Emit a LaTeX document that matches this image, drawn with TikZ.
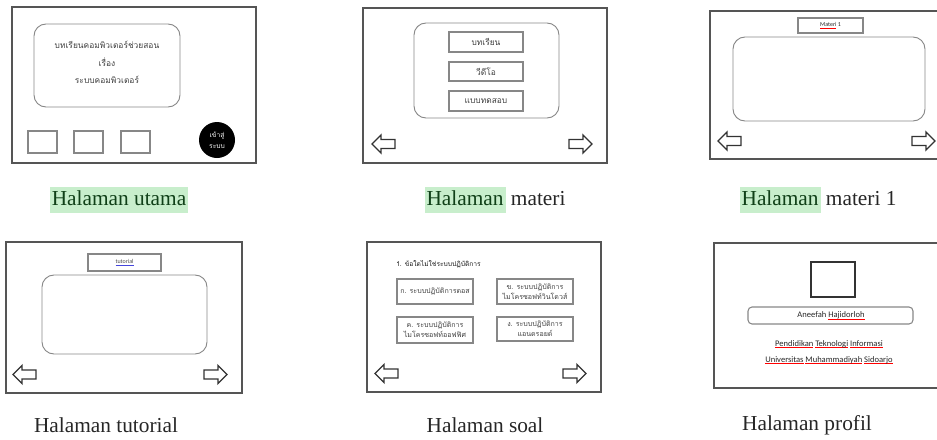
\documentclass[tikz,border=0pt]{standalone}
\usepackage{fontspec}
\setmainfont{Liberation Serif}
\newfontfamily\thai[Script=Thai]{Loma}
\newfontfamily\calib{Carlito}
\definecolor{hl}{RGB}{200,238,204}
\definecolor{hltext}{RGB}{16,64,24}
\definecolor{frame}{RGB}{85,85,85}
\definecolor{soft}{RGB}{135,135,135}
\definecolor{linkblue}{RGB}{70,70,220}
\newsavebox\spellbox
\newcommand\hlword[1]{{\setlength\fboxsep{0pt}\colorbox{hl}{\color{hltext}\strut\kern1.5pt #1\kern1.5pt}}}
\newcommand\spellmark[2][red]{\leavevmode\sbox\spellbox{#2}\rlap{\color{#1}\raisebox{-1.3pt}{\rule{\wd\spellbox}{0.35pt}}}\usebox\spellbox}
\tikzset{
  page/.style={draw=frame, line width=1.1pt},
  panel/.style={draw=soft, line width=0.7pt, rounded corners=9pt},
  btn/.style={draw=soft, line width=0.8pt},
  caption/.style={font=\fontsize{16}{19}\selectfont, text=black!85, inner sep=0pt},
  thaitext/.style={font=\thai\fontsize{6.3}{8}\selectfont, text=black!75, inner sep=0pt, align=center},
  smalltext/.style={font=\thai\fontsize{5.3}{7.5}\selectfont, text=black!75, inner sep=0pt, align=center},
  latintext/.style={font=\calib\fontsize{6.4}{8}\selectfont, text=black!85, inner sep=0pt, align=center},
  navarrow/.style={draw=black!80, line width=0.95pt, fill=white, line join=miter},
}
\newcommand\navleft[2]{\draw[navarrow] (#1,#2) -- ++(9,-9) -- ++(0,4.5) -- ++(14,0) -- ++(0,9) -- ++(-14,0) -- ++(0,4.5) -- cycle;}
\newcommand\navright[2]{\draw[navarrow] (#1,#2) -- ++(-9,-9) -- ++(0,4.5) -- ++(-14,0) -- ++(0,9) -- ++(14,0) -- ++(0,4.5) -- cycle;}
\begin{document}
\begin{tikzpicture}[x=0.75pt, y=-0.75pt]
\useasboundingbox (0,0) rectangle (937,439);

% ---------- Panel 1: Halaman utama
\draw[page] (12,7) rectangle (256,163);
\draw[panel] (34,24) rectangle (180,107);
\node[thaitext] (t1a) at (107,45) {บทเรียนคอมพิวเตอร์ช่วยสอน};
\node[thaitext] (t1b) at (107,62) {เรื่อง};
\node[thaitext] (t1c) at (107,80) {ระบบคอมพิวเตอร์};
\draw[btn] (28,131) rectangle (57,153);
\draw[btn] (74,131) rectangle (103,153);
\draw[btn] (121,131) rectangle (150,153);
\node[circle, fill=black, minimum size=27pt, inner sep=0pt, text=white, align=center,
      font=\thai\fontsize{5}{8.5}\selectfont] (login) at (217,140) {เข้าสู่\\ระบบ};
\node[caption] (cap1) at (119,200) {\hlword{Halaman utama}};

% ---------- Panel 2: Halaman materi
\draw[page] (363,8) rectangle (607,163);
\draw[panel] (414,23) rectangle (559,118);
\draw[btn] (449,32) rectangle (523,52);
\draw[btn] (449,62) rectangle (523,81);
\draw[btn] (449,91) rectangle (523,111);
\node[thaitext] (m1) at (486,42) {บทเรียน};
\node[thaitext] (m2) at (486,71.5) {วีดีโอ};
\node[thaitext] (m3) at (486,101) {แบบทดสอบ};
\navleft{372}{144}
\navright{592}{144}
\node[caption] (cap2) at (495,200) {\hlword{Halaman} materi};

% ---------- Panel 3: Halaman materi 1
\draw[page] (937,11) -- (710,11) -- (710,159) -- (937,159);
\draw[btn] (798,18) rectangle (863,33);
\node[latintext, font=\calib\fontsize{4.5}{6}\selectfont] (mt) at (830.5,25.5) {\spellmark{Materi}\ 1};
\draw[panel] (733,37) rectangle (925,121);
\navleft{718}{141}
\navright{935}{141}
\node[caption] (cap3) at (818,200) {\hlword{Halaman} materi 1};

% ---------- Panel 4: Halaman tutorial
\draw[page] (6,242) rectangle (242,393);
\draw[btn] (88,254) rectangle (161,271);
\node[latintext, font=\calib\fontsize{4.5}{6}\selectfont, text=black!70] (tt) at (124.5,262.5) {\spellmark[linkblue]{tutorial}};
\draw[panel] (42,275) rectangle (207,354);
\navleft{13}{374.5}
\navright{227}{374.5}
\node[caption] (cap4) at (106,425) {Halaman tutorial};

% ---------- Panel 5: Halaman soal
\draw[page] (367,242) rectangle (601,392);
\node[smalltext, anchor=west, font=\thai\fontsize{5}{7}\selectfont, text=black!90] (q) at (396,264) {1. ข้อใดไม่ใช่ระบบปฏิบัติการ};
\draw[btn] (397,279) rectangle (473,304);
\draw[btn] (497,279) rectangle (573,304);
\draw[btn] (397,317) rectangle (473,343);
\draw[btn] (497,317) rectangle (573,341);
\node[smalltext] (oa) at (435,291.5) {ก. ระบบปฏิบัติการดอส};
\node[smalltext] (ob) at (535,291.5) {ข. ระบบปฏิบัติการ\\ไมโครซอฟท์วินโดวส์};
\node[smalltext] (oc) at (435,330) {ค. ระบบปฏิบัติการ\\ไมโครซอฟท์ออฟฟิศ};
\node[smalltext] (od) at (535,329) {ง. ระบบปฏิบัติการ\\แอนดรอยด์};
\navleft{375}{373.5}
\navright{586}{373.5}
\node[caption] (cap5) at (485,425) {Halaman soal};

% ---------- Panel 6: Halaman profil
\draw[page] (937,243) -- (714,243) -- (714,388) -- (937,388);
\draw[draw=black!80, line width=1.5pt] (811,262) rectangle (855,297);
\draw[btn, rounded corners=3pt] (748,307) rectangle (913,324);
\node[latintext] (nm) at (831,315.5) {Aneefah\ \spellmark{Hajidorloh}};
\node[latintext] (pd) at (829,344) {\spellmark{Pendidikan}\ \spellmark{Teknologi}\ \spellmark{Informasi}};
\node[latintext] (un) at (829,360) {\spellmark{Universitas}\ \spellmark{Muhammadiyah}\ \spellmark{Sidoarjo}};
\node[caption] (cap6) at (807,425) {Halaman profil};
\end{tikzpicture}
\end{document}
